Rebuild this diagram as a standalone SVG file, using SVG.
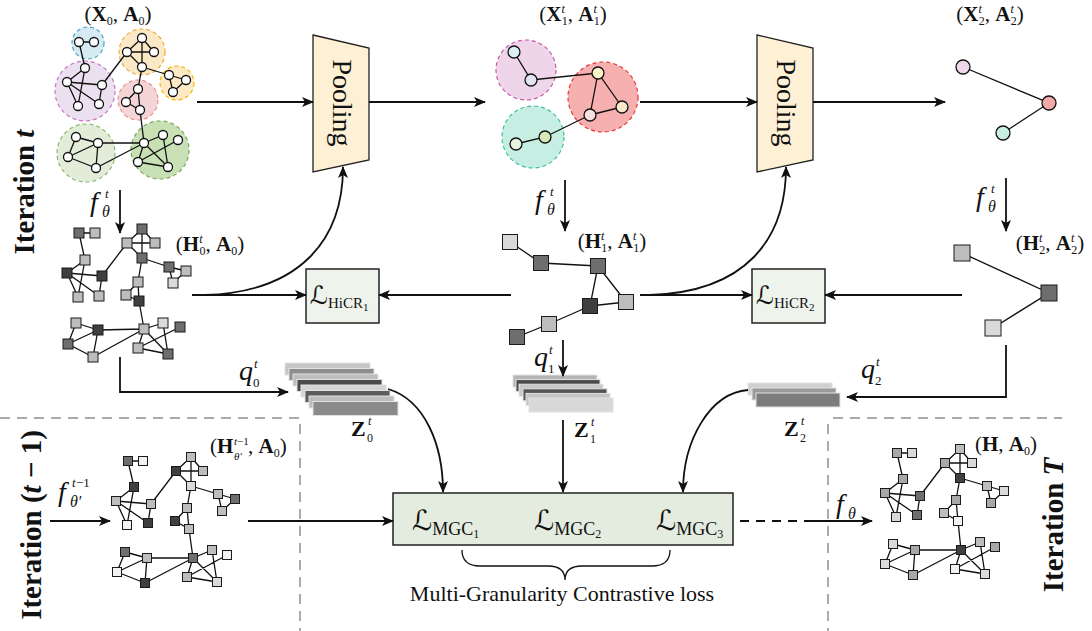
<svg xmlns="http://www.w3.org/2000/svg" xmlns:xlink="http://www.w3.org/1999/xlink" width="1092" height="631" viewBox="0 0 1092 631">
<style>
text{font-family:"Liberation Serif","Times New Roman",serif;fill:#111}
.lbl{font-size:21px}
.b{font-weight:bold}
.it{font-style:italic}
.iter{font-size:29px;font-weight:bold}
.fn{font-size:28px;font-style:italic}
.fs{font-size:16px;font-style:italic}
.ft{font-size:13px;font-style:italic}
.cal{font-family:"DejaVu Serif","DejaVu Sans",serif;font-style:italic}
.e{stroke:#111;stroke-width:1.3;fill:none}
.c1{fill:#3f3f3f}.c2{fill:#6e6e6e}.c3{fill:#bdbdbd}.c4{fill:#dadada}.c5{fill:#f2f2f2}.c6{fill:#a8a8a8}
.sq{stroke:#1a1a1a;stroke-width:1}
.cn{fill:#fff;stroke:#111;stroke-width:1.3}
.cl{stroke-width:1.2;stroke-dasharray:4 3}
.ar{stroke:#111;stroke-width:1.8;fill:none}
.dash{stroke:#aaa;stroke-width:2;stroke-dasharray:10 7;fill:none}
.slab{stroke:#e2e2e2;stroke-width:1}
.box{stroke:#222;stroke-width:1.5}
</style>
<defs>
<marker id="ah" viewBox="0 0 12 10" markerWidth="12" markerHeight="10" refX="11" refY="5" orient="auto" markerUnits="userSpaceOnUse">
<path d="M0,0 L12,5 L0,10 L3,5 z" fill="#111"/>
</marker>
<rect id="s9" x="-4.5" y="-4.5" width="9" height="9"/>
<rect id="s10" x="-5" y="-5" width="10" height="10"/>
<rect id="s15" x="-7.5" y="-7.5" width="15" height="15"/>
<rect id="s16" x="-8" y="-8" width="16" height="16"/>
<circle id="cn" r="4.5"/>
</defs>
<rect width="1092" height="631" fill="#fff"/>

<!-- dashed region separators -->
<g id="regions">
<path class="dash" d="M0,418 H300 V631"/>
<path class="dash" d="M833,418 H1062"/>
<path class="dash" d="M828,424 V631"/>
</g>

<!-- iteration labels -->
<g id="iter-labels">
<text class="iter" transform="translate(34,192) rotate(-90)" text-anchor="middle">Iteration <tspan class="it">t</tspan></text>
<text class="iter" transform="translate(41,525) rotate(-90)" text-anchor="middle">Iteration (<tspan class="it">t</tspan> − 1)</text>
<text class="iter" transform="translate(1063,525) rotate(-90)" text-anchor="middle">Iteration <tspan class="it">T</tspan></text>
</g>

<!-- G0: input graph with clusters -->
<g id="graph-X0">
<circle cx="85" cy="91" r="30" fill="#ebe0ef" stroke="#c874c4" class="cl"/>
<circle cx="88" cy="43" r="16" fill="#d5eaf3" stroke="#4aa3c8" class="cl"/>
<circle cx="142" cy="52" r="23" fill="#fbe8c6" stroke="#f0aa3a" class="cl"/>
<circle cx="177" cy="83" r="17" fill="#fde9c6" stroke="#f5b800" class="cl"/>
<circle cx="138" cy="100" r="20" fill="#f4d4d4" stroke="#e89090" class="cl"/>
<circle cx="86" cy="153" r="29" fill="#e2ecd8" stroke="#8cb870" class="cl"/>
<circle cx="160" cy="150" r="29" fill="#c9dfb4" stroke="#78a85c" class="cl"/>
<path class="e" d="M79,42L94,42 M79,42L85,68 M85,68L67,82 M85,68L78,106 M67,82L102,85 M67,82L78,106 M67,82L99,104 M102,85L99,104 M102,85L127,52 M142,38L127,52 M142,38L154,52 M142,38L142,67 M127,52L154,52 M127,52L142,67 M142,67L169,75 M142,67L138,89 M169,75L186,80 M169,75L173,92 M186,80L173,92 M138,89L126,102 M138,89L140,110 M126,102L140,110 M140,110L144,143 M76,137L98,143 M76,137L68,157 M98,143L68,157 M98,143L96,168 M68,157L96,168 M98,143L144,143 M96,168L144,143 M144,143L163,135 M144,143L138,162 M144,143L168,167 M163,135L168,167 M178,140L138,162 M138,162L168,167"/>
<g class="cn">
<use href="#cn" x="79" y="42"/><use href="#cn" x="94" y="42"/><use href="#cn" x="85" y="68"/><use href="#cn" x="67" y="82"/><use href="#cn" x="102" y="85"/><use href="#cn" x="78" y="106"/><use href="#cn" x="99" y="104"/><use href="#cn" x="142" y="38"/><use href="#cn" x="127" y="52"/><use href="#cn" x="154" y="52"/><use href="#cn" x="142" y="67"/><use href="#cn" x="169" y="75"/><use href="#cn" x="186" y="80"/><use href="#cn" x="173" y="92"/><use href="#cn" x="138" y="89"/><use href="#cn" x="126" y="102"/><use href="#cn" x="140" y="110"/><use href="#cn" x="76" y="137"/><use href="#cn" x="98" y="143"/><use href="#cn" x="68" y="157"/><use href="#cn" x="96" y="168"/><use href="#cn" x="144" y="143"/><use href="#cn" x="163" y="135"/><use href="#cn" x="178" y="140"/><use href="#cn" x="138" y="162"/><use href="#cn" x="168" y="167"/>
</g>
<text class="lbl" x="118" y="21" text-anchor="middle">(<tspan class="b">X</tspan><tspan font-size="12" dy="4">0</tspan><tspan dy="-4">, </tspan><tspan class="b">A</tspan><tspan font-size="12" dy="4">0</tspan><tspan dy="-4">)</tspan></text>
</g>

<!-- H0 -->
<g id="graph-H0">
<path class="e" d="M79,233L95,233 M79,233L85,260 M85,260L67,273 M85,260L78,297 M67,273L102,276 M67,273L78,297 M67,273L99,296 M102,276L99,296 M102,276L127,243 M142,229L127,243 M142,229L155,243 M142,229L142,258 M127,243L155,243 M127,243L142,258 M142,258L169,267 M142,258L138,282 M169,267L186,271 M169,267L173,283 M186,271L173,283 M138,282L126,295 M138,282L139,301 M126,295L139,301 M139,301L144,329 M76,323L98,330 M76,323L68,344 M98,330L68,344 M98,330L93,357 M68,344L93,357 M98,330L144,329 M93,357L144,329 M144,329L163,323 M144,329L138,348 M144,329L168,354 M163,323L168,354 M180,327L138,348 M138,348L168,354"/>
<g class="sq">
<use href="#s10" x="79" y="233" class="c2"/><use href="#s10" x="95" y="233" class="c3"/><use href="#s10" x="85" y="260" class="c3"/><use href="#s10" x="67" y="273" class="c1"/><use href="#s10" x="102" y="276" class="c1"/><use href="#s10" x="78" y="297" class="c3"/><use href="#s10" x="99" y="296" class="c3"/><use href="#s10" x="142" y="229" class="c2"/><use href="#s10" x="127" y="243" class="c3"/><use href="#s10" x="155" y="243" class="c3"/><use href="#s10" x="142" y="258" class="c2"/><use href="#s10" x="169" y="267" class="c2"/><use href="#s10" x="186" y="271" class="c3"/><use href="#s10" x="173" y="283" class="c4"/><use href="#s10" x="138" y="282" class="c3"/><use href="#s10" x="126" y="295" class="c3"/><use href="#s10" x="139" y="301" class="c1"/><use href="#s10" x="76" y="323" class="c3"/><use href="#s10" x="98" y="330" class="c1"/><use href="#s10" x="68" y="344" class="c2"/><use href="#s10" x="93" y="357" class="c3"/><use href="#s10" x="144" y="329" class="c3"/><use href="#s10" x="163" y="323" class="c4"/><use href="#s10" x="180" y="327" class="c2"/><use href="#s10" x="138" y="348" class="c3"/><use href="#s10" x="168" y="354" class="c2"/>
</g>
<text class="lbl" x="210" y="251" text-anchor="middle">(<tspan class="b">H</tspan><tspan font-size="12" class="it" dy="-8">t</tspan><tspan font-size="12" dx="-3" dy="12">0</tspan><tspan dy="-4">, </tspan><tspan class="b">A</tspan><tspan font-size="12" dy="4">0</tspan><tspan dy="-4">)</tspan></text>
</g>

<!-- Pooling 1 -->
<g id="pool1">
<polygon points="313,35 369,48 369,160 313,172" fill="#fdf0d4" stroke="#222" stroke-width="1.3"/>
<text transform="translate(333,103) rotate(90)" text-anchor="middle" font-size="28">Pooling</text>
</g>

<!-- X1 -->
<g id="graph-X1">
<circle cx="526" cy="70" r="30" fill="#efd5ea" stroke="#c85aa8" class="cl"/>
<circle cx="603" cy="97" r="35" fill="#f6b0b0" stroke="#e83838" class="cl"/>
<circle cx="533" cy="137" r="31" fill="#c6eee2" stroke="#3cbfa0" class="cl"/>
<path class="e" d="M514,52L531,80L598,73L622,107L590,115L598,73 M590,115L545,137L516,144"/>
<g stroke="#111" stroke-width="1.3">
<circle cx="514" cy="52" r="6" fill="#dbeef6"/><circle cx="531" cy="80" r="6" fill="#e4e4f0"/><circle cx="598" cy="73" r="6" fill="#fdf3c8"/><circle cx="622" cy="107" r="6" fill="#fde6cc"/><circle cx="590" cy="115" r="6" fill="#f7e0e0"/><circle cx="516" cy="144" r="6" fill="#e6f2e0"/><circle cx="545" cy="137" r="6" fill="#d6e8b8"/>
</g>
<text class="lbl" x="573" y="21" text-anchor="middle">(<tspan class="b">X</tspan><tspan font-size="12" class="it" dy="-8">t</tspan><tspan font-size="12" dx="-3" dy="12">1</tspan><tspan dy="-4">, </tspan><tspan class="b">A</tspan><tspan font-size="12" class="it" dy="-8">t</tspan><tspan font-size="12" dx="-3" dy="12">1</tspan><tspan dy="-4">)</tspan></text>
</g>

<!-- H1 -->
<g id="graph-H1">
<path class="e" d="M510,242L541,263L598,266 M598,266L590,306 M598,266L626,302 M590,306L626,302 M590,306L549,324L517,337"/>
<g class="sq">
<use href="#s15" x="510" y="242" class="c4"/><use href="#s15" x="541" y="263" class="c2"/><use href="#s15" x="598" y="266" class="c2"/><use href="#s15" x="590" y="306" class="c1"/><use href="#s15" x="626" y="302" class="c3"/><use href="#s15" x="549" y="324" class="c3"/><use href="#s15" x="517" y="337" class="c2"/>
</g>
<text class="lbl" x="612" y="248" text-anchor="middle">(<tspan class="b">H</tspan><tspan font-size="12" class="it" dy="-8">t</tspan><tspan font-size="12" dx="-3" dy="12">1</tspan><tspan dy="-4">, </tspan><tspan class="b">A</tspan><tspan font-size="12" class="it" dy="-8">t</tspan><tspan font-size="12" dx="-3" dy="12">1</tspan><tspan dy="-4">)</tspan></text>
</g>

<!-- Pooling 2 -->
<g id="pool2">
<polygon points="757,35 813,48 813,160 757,172" fill="#fdf0d4" stroke="#222" stroke-width="1.3"/>
<text transform="translate(777,103) rotate(90)" text-anchor="middle" font-size="28">Pooling</text>
</g>

<!-- X2 -->
<g id="graph-X2">
<path class="e" d="M963,67L1049,103L1003,133"/>
<g stroke="#111" stroke-width="1.3">
<circle cx="963" cy="67" r="7" fill="#f0d8ea"/><circle cx="1049" cy="103" r="7" fill="#f4a9a9"/><circle cx="1003" cy="133" r="7" fill="#c9efe3"/>
</g>
<text class="lbl" x="990" y="21" text-anchor="middle">(<tspan class="b">X</tspan><tspan font-size="12" class="it" dy="-8">t</tspan><tspan font-size="12" dx="-3" dy="12">2</tspan><tspan dy="-4">, </tspan><tspan class="b">A</tspan><tspan font-size="12" class="it" dy="-8">t</tspan><tspan font-size="12" dx="-3" dy="12">2</tspan><tspan dy="-4">)</tspan></text>
</g>

<!-- H2 -->
<g id="graph-H2">
<path class="e" d="M962,253L1049,293L993,328"/>
<g class="sq">
<use href="#s16" x="962" y="253" class="c3"/><use href="#s16" x="1049" y="293" class="c2"/><use href="#s16" x="993" y="328" class="c4"/>
</g>
<text class="lbl" x="1050" y="250" text-anchor="middle">(<tspan class="b">H</tspan><tspan font-size="12" class="it" dy="-8">t</tspan><tspan font-size="12" dx="-3" dy="12">2</tspan><tspan dy="-4">, </tspan><tspan class="b">A</tspan><tspan font-size="12" class="it" dy="-8">t</tspan><tspan font-size="12" dx="-3" dy="12">2</tspan><tspan dy="-4">)</tspan></text>
</g>

<!-- HiCR boxes -->
<g id="hicr1">
<rect x="306" y="269" width="73" height="54" fill="#eef4ec" class="box"/>
<text x="310" y="304" class="cal" font-size="25">ℒ<tspan font-family="Liberation Serif" font-style="normal" font-size="15" dy="4">HiCR</tspan><tspan font-family="Liberation Serif" font-style="normal" font-size="11" dy="3">1</tspan></text>
</g>
<g id="hicr2">
<rect x="752" y="269" width="73" height="54" fill="#eef4ec" class="box"/>
<text x="756" y="304" class="cal" font-size="25">ℒ<tspan font-family="Liberation Serif" font-style="normal" font-size="15" dy="4">HiCR</tspan><tspan font-family="Liberation Serif" font-style="normal" font-size="11" dy="3">2</tspan></text>
</g>

<!-- Z stacks -->
<g id="Z0">
<rect class="slab" x="285" y="363" width="85" height="12" fill="#c6c6c6"/>
<rect class="slab" x="289" y="368.5" width="85" height="12" fill="#8e8e8e"/>
<rect class="slab" x="293" y="374" width="85" height="12" fill="#bdbdbd"/>
<rect class="slab" x="297" y="379.5" width="85" height="12" fill="#4a4a4a"/>
<rect class="slab" x="301" y="385" width="85" height="12" fill="#d4d4d4"/>
<rect class="slab" x="305" y="390.5" width="85" height="12" fill="#5c5c5c"/>
<rect class="slab" x="309" y="396" width="85" height="12" fill="#bcbcbc"/>
<rect class="slab" x="313" y="401.5" width="85" height="14" fill="#8a8a8a"/>
<text x="351" y="436" font-size="22" class="b">Z</text><text x="367" y="442" font-size="12">0</text><text x="368" y="425" font-size="12" class="it">t</text>
</g>
<g id="Z1">
<rect class="slab" x="513" y="375" width="84" height="12" fill="#b4b4b4"/>
<rect class="slab" x="516" y="379.6" width="84" height="12" fill="#4a4a4a"/>
<rect class="slab" x="519" y="384.2" width="84" height="12" fill="#c8c8c8"/>
<rect class="slab" x="523" y="388.8" width="84" height="12" fill="#555"/>
<rect class="slab" x="526" y="393.4" width="84" height="12" fill="#c4c4c4"/>
<rect class="slab" x="529" y="398" width="84" height="14" fill="#d8d8d8"/>
<text x="574" y="437" font-size="22" class="b">Z</text><text x="590" y="443" font-size="12">1</text><text x="591" y="426" font-size="12" class="it">t</text>
</g>
<g id="Z2">
<rect class="slab" x="748" y="383" width="84" height="12" fill="#d0d0d0"/>
<rect class="slab" x="752" y="388" width="84" height="12" fill="#9a9a9a"/>
<rect class="slab" x="756" y="393" width="84" height="14" fill="#7c7c7c"/>
<text x="784" y="436" font-size="22" class="b">Z</text><text x="800" y="442" font-size="12">2</text><text x="801" y="425" font-size="12" class="it">t</text>
</g>

<!-- MGC box -->
<g id="mgc">
<rect x="393" y="493" width="340" height="52" fill="#e3ecdf" class="box"/>
<text x="412" y="530" class="cal" font-size="28">ℒ<tspan font-family="Liberation Serif" font-style="normal" font-size="18" dy="5">MGC</tspan><tspan font-family="Liberation Serif" font-style="normal" font-size="12" dy="3">1</tspan></text>
<text x="534" y="530" class="cal" font-size="28">ℒ<tspan font-family="Liberation Serif" font-style="normal" font-size="18" dy="5">MGC</tspan><tspan font-family="Liberation Serif" font-style="normal" font-size="12" dy="3">2</tspan></text>
<text x="656" y="530" class="cal" font-size="28">ℒ<tspan font-family="Liberation Serif" font-style="normal" font-size="18" dy="5">MGC</tspan><tspan font-family="Liberation Serif" font-style="normal" font-size="12" dy="3">3</tspan></text>
<path class="e" stroke-width="1.6" d="M462,550 Q462,566 480,566 L548,566 Q565,566 565,580 Q565,566 582,566 L652,566 Q670,566 670,550"/>
<text x="562" y="601" text-anchor="middle" font-size="22">Multi-Granularity Contrastive loss</text>
</g>

<!-- H_{t-1} graph -->
<g id="graph-Hprev">
<path class="e" d="M128,461L143,461 M128,461L134,487 M134,487L116,501 M134,487L127,525 M116,501L151,504 M116,501L127,525 M116,501L148,523 M151,504L148,523 M151,504L176,471 M191,457L176,471 M191,457L203,471 M191,457L191,486 M176,471L203,471 M176,471L191,486 M191,486L218,494 M191,486L187,508 M218,494L235,499 M218,494L222,511 M235,499L222,511 M187,508L175,521 M187,508L189,529 M175,521L189,529 M189,529L193,558 M125,552L147,558 M125,552L117,572 M147,558L117,572 M147,558L145,583 M117,572L145,583 M147,558L193,558 M145,583L193,558 M193,558L212,550 M193,558L187,577 M193,558L217,582 M212,550L217,582 M227,555L187,577 M187,577L217,582"/>
<g class="sq">
<use href="#s9" x="128" y="461" class="c2"/><use href="#s9" x="143" y="461" class="c5"/><use href="#s9" x="134" y="487" class="c1"/><use href="#s9" x="116" y="501" class="c3"/><use href="#s9" x="151" y="504" class="c3"/><use href="#s9" x="127" y="525" class="c5"/><use href="#s9" x="148" y="523" class="c1"/><use href="#s9" x="191" y="457" class="c3"/><use href="#s9" x="176" y="471" class="c1"/><use href="#s9" x="203" y="471" class="c3"/><use href="#s9" x="191" y="486" class="c4"/><use href="#s9" x="218" y="494" class="c3"/><use href="#s9" x="235" y="499" class="c2"/><use href="#s9" x="222" y="511" class="c3"/><use href="#s9" x="187" y="508" class="c3"/><use href="#s9" x="175" y="521" class="c1"/><use href="#s9" x="189" y="529" class="c3"/><use href="#s9" x="125" y="552" class="c2"/><use href="#s9" x="147" y="558" class="c3"/><use href="#s9" x="117" y="572" class="c5"/><use href="#s9" x="145" y="583" class="c1"/><use href="#s9" x="193" y="558" class="c2"/><use href="#s9" x="212" y="550" class="c3"/><use href="#s9" x="227" y="555" class="c5"/><use href="#s9" x="187" y="577" class="c3"/><use href="#s9" x="217" y="582" class="c4"/>
</g>
<text class="lbl" x="210" y="453">(<tspan class="b">H</tspan></text>
<text font-size="11" x="234" y="445"><tspan class="it">t</tspan>−1</text>
<text font-size="11" class="it" x="234" y="460">θ′</text>
<text class="lbl" x="248" y="453">, <tspan class="b">A</tspan><tspan font-size="12" dy="4">0</tspan><tspan dy="-4">)</tspan></text>
</g>

<!-- H final graph -->
<g id="graph-HT">
<path class="e" d="M897,453L912,453 M897,453L903,479 M903,479L885,493 M903,479L896,517 M885,493L920,496 M885,493L896,517 M885,493L917,515 M920,496L917,515 M920,496L945,463 M960,449L945,463 M960,449L972,463 M960,449L960,478 M945,463L972,463 M945,463L960,478 M960,478L987,486 M960,478L956,500 M987,486L1004,491 M987,486L991,503 M1004,491L991,503 M956,500L944,513 M956,500L958,521 M944,513L958,521 M958,521L961,550 M893,544L915,550 M893,544L885,564 M915,550L885,564 M915,550L913,575 M885,564L913,575 M915,550L961,550 M913,575L961,550 M961,550L980,542 M961,550L955,569 M961,550L985,574 M980,542L985,574 M995,547L955,569 M955,569L985,574"/>
<g class="sq">
<use href="#s9" x="897" y="453" class="c6"/><use href="#s9" x="912" y="453" class="c4"/><use href="#s9" x="903" y="479" class="c6"/><use href="#s9" x="885" y="493" class="c6"/><use href="#s9" x="920" y="496" class="c2"/><use href="#s9" x="896" y="517" class="c4"/><use href="#s9" x="917" y="515" class="c2"/><use href="#s9" x="960" y="449" class="c3"/><use href="#s9" x="945" y="463" class="c6"/><use href="#s9" x="972" y="463" class="c4"/><use href="#s9" x="960" y="478" class="c1"/><use href="#s9" x="987" y="486" class="c3"/><use href="#s9" x="1004" y="491" class="c4"/><use href="#s9" x="991" y="503" class="c6"/><use href="#s9" x="956" y="500" class="c6"/><use href="#s9" x="944" y="513" class="c3"/><use href="#s9" x="958" y="521" class="c5"/><use href="#s9" x="893" y="544" class="c4"/><use href="#s9" x="915" y="550" class="c6"/><use href="#s9" x="885" y="564" class="c4"/><use href="#s9" x="913" y="575" class="c6"/><use href="#s9" x="961" y="550" class="c1"/><use href="#s9" x="980" y="542" class="c3"/><use href="#s9" x="995" y="547" class="c6"/><use href="#s9" x="955" y="569" class="c5"/><use href="#s9" x="985" y="574" class="c4"/>
</g>
<text class="lbl" x="1006" y="451" text-anchor="middle">(<tspan class="b">H</tspan>, <tspan class="b">A</tspan><tspan font-size="12" dy="4">0</tspan><tspan dy="-4">)</tspan></text>
</g>

<!-- connectors -->
<g id="connectors">
<path class="ar" marker-end="url(#ah)" d="M197,102 H313"/>
<path class="ar" marker-end="url(#ah)" d="M369,102 H485"/>
<path class="ar" marker-end="url(#ah)" d="M640,102 H757"/>
<path class="ar" marker-end="url(#ah)" d="M813,102 H945"/>
<path class="ar" marker-end="url(#ah)" d="M120,190 V233"/>
<path class="ar" marker-end="url(#ah)" d="M565,180 V231"/>
<path class="ar" marker-end="url(#ah)" d="M1006,178 V231"/>
<path class="ar" marker-end="url(#ah)" d="M192,295 H306"/>
<path class="ar" marker-end="url(#ah)" d="M511,295 H379"/>
<path class="ar" marker-end="url(#ah)" d="M640,295 H752"/>
<path class="ar" marker-end="url(#ah)" d="M962,295 H825"/>
<path class="ar" marker-end="url(#ah)" d="M205,295 C300,292 343,240 343,167"/>
<path class="ar" marker-end="url(#ah)" d="M650,295 C745,292 786,240 786,167"/>
<path class="ar" marker-end="url(#ah)" d="M120,357 V392 H288"/>
<path class="ar" marker-end="url(#ah)" d="M563,340 V376"/>
<path class="ar" marker-end="url(#ah)" d="M1006,345 V397 H847"/>
<path class="ar" marker-end="url(#ah)" d="M388,389 C425,400 443,445 443,492"/>
<path class="ar" marker-end="url(#ah)" d="M563,420 V492"/>
<path class="ar" marker-end="url(#ah)" d="M748,390 C710,393 683,440 683,492"/>
<path class="ar" marker-end="url(#ah)" d="M50,521 H110"/>
<path class="ar" marker-end="url(#ah)" d="M248,521 H393"/>
<path class="ar" stroke-dasharray="9 7" d="M740,521 H805"/>
<path class="ar" marker-end="url(#ah)" d="M805,521 H872"/>
</g>

<!-- connector labels -->
<g id="edge-labels">
<text class="fn" x="90" y="211">f</text><text class="fs" x="102" y="217">θ</text><text class="ft" x="105" y="198">t</text>
<text class="fn" x="535" y="209">f</text><text class="fs" x="547" y="215">θ</text><text class="ft" x="550" y="196">t</text>
<text class="fn" x="976" y="206">f</text><text class="fs" x="988" y="212">θ</text><text class="ft" x="991" y="193">t</text>
<text class="fn" x="58" y="501">f</text><text class="fs" x="70" y="507">θ′</text><text class="ft" x="72" y="487">t</text><text font-size="13" x="76" y="487">−1</text>
<text class="fn" x="836" y="513">f</text><text class="fs" x="848" y="519">θ</text>
<text class="fn" x="239" y="380">q</text><text font-size="13" x="253" y="387">0</text><text class="ft" x="254" y="368">t</text>
<text class="fn" x="534" y="366">q</text><text font-size="13" x="548" y="373">1</text><text class="ft" x="549" y="354">t</text>
<text class="fn" x="861" y="378">q</text><text font-size="13" x="875" y="385">2</text><text class="ft" x="876" y="366">t</text>
</g>
</svg>
